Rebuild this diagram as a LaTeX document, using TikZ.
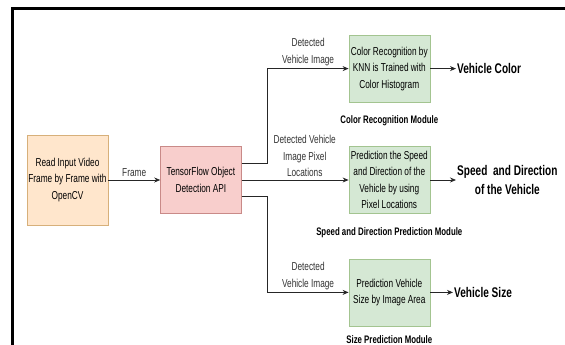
\documentclass[tikz,border=0pt]{standalone}
\usepackage{fontspec}
\setmainfont{Liberation Sans}[FakeStretch=0.72]
\usetikzlibrary{positioning,arrows.meta}

\begin{document}
\begin{tikzpicture}[x=1pt,y=-1pt,node distance=52pt]
\definecolor{orangefill}{HTML}{FFE6CC}
\definecolor{orangeline}{HTML}{D7B07A}
\definecolor{rotfill}{HTML}{F8CECC}
\definecolor{rotline}{HTML}{C98A88}
\definecolor{gruenfill}{HTML}{D5E8D4}
\definecolor{gruenline}{HTML}{A3C490}
\tikzstyle{baustein}=[draw,rectangle,minimum width=81pt,inner sep=1pt,align=center,font=\fontsize{11.5}{16.5}\selectfont]
\tikzstyle{pf}=[-{Stealth[length=6pt,width=5pt]},draw=black!85,line width=0.8pt]
\tikzstyle{beschr}=[align=center,inner sep=2.5pt,text=black!80,font=\fontsize{11.5}{16.5}\selectfont]
\tikzstyle{modul}=[inner sep=0pt,font=\bfseries\fontsize{10.9}{12}\selectfont]
\tikzstyle{ergebnis}=[align=center,inner sep=1pt,font=\bfseries\fontsize{14}{18.7}\selectfont]

\useasboundingbox (0,0) rectangle (565,345);
\draw[line width=3.5pt] (12.5,345) -- (12.5,8.5) -- (565,8.5); % Rahmen oben und links

\node[baustein,fill=orangefill,draw=orangeline,minimum height=90pt] (read) at (67.5,180) {Read Input Video\\Frame by Frame with\\OpenCV};
\node[baustein,fill=rotfill,draw=rotline,minimum height=67pt,right=52pt of read] (tf) {TensorFlow Object\\Detection API};

\node[baustein,fill=gruenfill,draw=gruenline,minimum height=67pt,right=107pt of tf] (speed) {Prediction the Speed\\and Direction of the\\Vehicle by using\\Pixel Locations};
\node[baustein,fill=gruenfill,draw=gruenline,minimum height=67pt,above=44pt of speed] (color) {Color Recognition by\\KNN is Trained with\\Color Histogram};
\node[baustein,fill=gruenfill,draw=gruenline,minimum height=67pt,below=45pt of speed] (size) {Prediction Vehicle\\Size by Image Area};

\node[modul,below=13pt of color] (colormod) {Color Recognition Module};
\node[modul,below=13.5pt of speed] (speedmod) {Speed and Direction Prediction Module};
\node[modul,below=9.5pt of size] (sizemod) {Size Prediction Module};

\node[ergebnis,right=26pt of color] (colorout) {Vehicle Color};
\node[ergebnis,right=26pt of speed] (speedout) {Speed\ \ and Direction\\of the Vehicle};
\node[ergebnis,right=23pt of size] (sizeout) {Vehicle Size};

\draw[pf] (read) -- node[beschr,above] {Frame} (tf);
\draw[pf] (tf) -- node[beschr,above,pos=0.59] {Detected Vehicle\\Image Pixel\\Locations} (speed);
\draw[pf] ([yshift=16.5pt]tf.east) -- ++(26,0) |- node[beschr,above,pos=0.75] {Detected\\Vehicle Image} (color);
\draw[pf] ([yshift=-16.5pt]tf.east) -- ++(26,0) |- node[beschr,above,pos=0.75] {Detected\\Vehicle Image} (size);

\draw[pf] (color) -- (colorout);
\draw[pf] (speed) -- (speedout);
\draw[pf] (size) -- (sizeout);
\end{tikzpicture}
\end{document}
